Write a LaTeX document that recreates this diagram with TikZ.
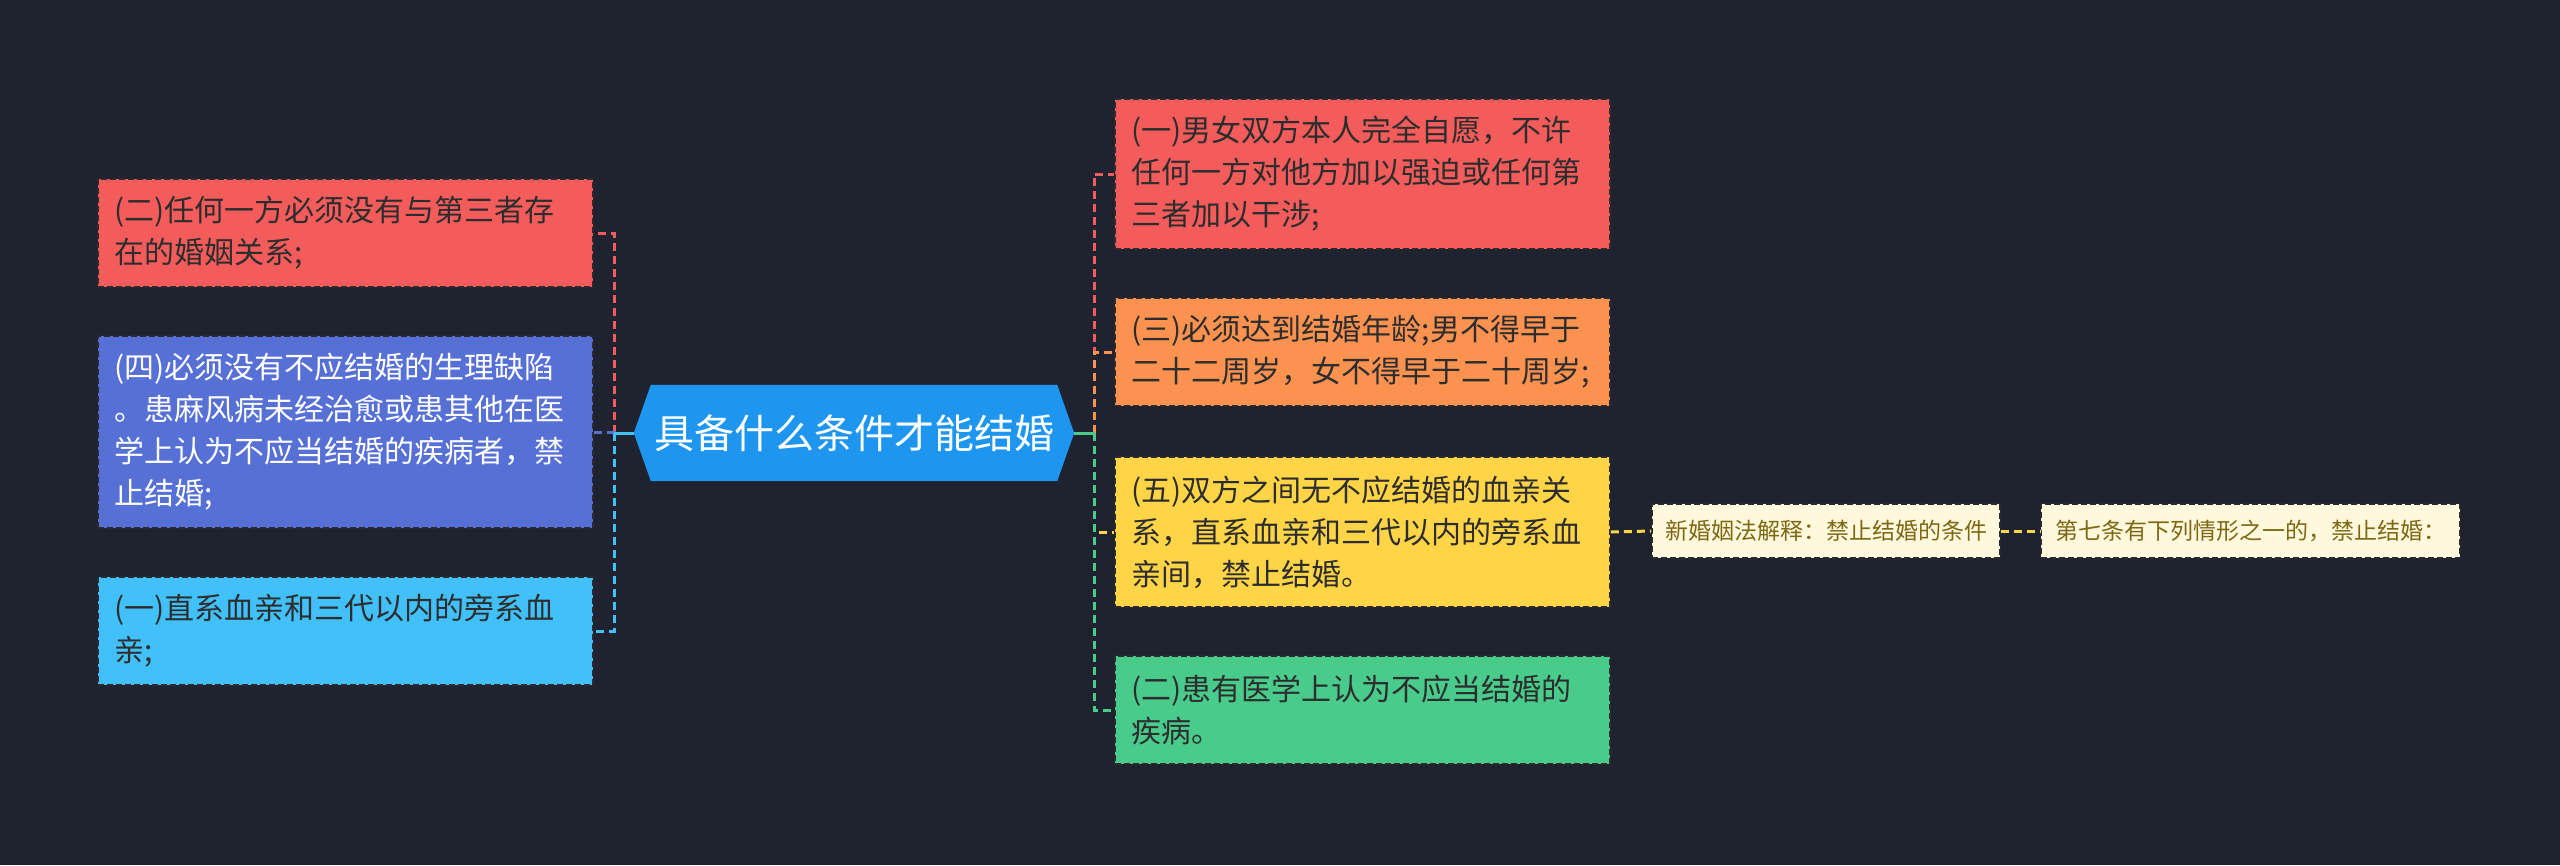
\documentclass[tikz,border=0pt]{standalone}
\usepackage{fontspec}
\setmainfont{Noto Sans CJK SC}
\usetikzlibrary{calc}
\definecolor{bg}{RGB}{31,35,48}
\definecolor{cred}{RGB}{244,92,92}
\definecolor{cindigo}{RGB}{86,112,214}
\definecolor{ccyan}{RGB}{65,192,250}
\definecolor{corange}{RGB}{252,146,80}
\definecolor{cyellow}{RGB}{255,213,72}
\definecolor{cgreen}{RGB}{72,203,139}
\definecolor{ccream}{RGB}{255,248,220}
\definecolor{cblue}{RGB}{30,150,240}
\definecolor{darktext}{RGB}{45,45,45}
\definecolor{olivetext}{RGB}{125,105,20}
\definecolor{edge}{RGB}{45,42,45}
\begin{document}
\begin{tikzpicture}[x=1pt,y=-1pt,
  box/.style={rectangle, draw=edge, fill=#1, dash pattern=on 6pt off 3pt, line width=1.8pt,
    minimum width=495pt, text width=462pt, align=left, inner sep=0pt,
    font=\fontsize{30}{42}\selectfont, text=darktext},
  small/.style={rectangle, draw=edge, fill=ccream, dash pattern=on 6pt off 3pt, line width=1.8pt,
    minimum height=54pt, inner sep=0pt, font=\fontsize{23}{28}\selectfont, text=olivetext},
  link/.style={line width=3pt, dash pattern=on 8pt off 5pt},
  trunk/.style={line width=3pt}]
\fill[bg] (0,0) rectangle (2560,865);
\useasboundingbox (0,0) rectangle (2560,865);

% center
\node[rectangle, minimum width=440pt, minimum height=96pt, inner sep=0pt] (center) at (854,433) {};
\fill[cblue] (center.west) -- ($(center.north west)+(17,0)$) -- ($(center.north east)+(-17,0)$)
  -- (center.east) -- ($(center.south east)+(-17,0)$) -- ($(center.south west)+(17,0)$) -- cycle;
\node[text=white, font=\fontsize{40}{48}\selectfont, inner sep=0pt] (ctext) at (center) {具备什么条件才能结婚};

% left boxes
\node[box=cred, minimum height=108pt] (l1) at (345.5,233) {(二)任何一方必须没有与第三者存\\在的婚姻关系;};
\node[box=cindigo, minimum height=192pt, text=white] (l2) at (345.5,432) {(四)必须没有不应结婚的生理缺陷\\。患麻风病未经治愈或患其他在医\\学上认为不应当结婚的疾病者，禁\\止结婚;};
\node[box=ccyan, minimum height=108pt] (l3) at (345.5,631) {(一)直系血亲和三代以内的旁系血\\亲;};

% right boxes
\node[box=cred, minimum height=150pt] (r1) at (1362.5,174) {(一)男女双方本人完全自愿，不许\\任何一方对他方加以强迫或任何第\\三者加以干涉;};
\node[box=corange, minimum height=108pt] (r2) at (1362.5,352) {(三)必须达到结婚年龄;男不得早于\\二十二周岁，女不得早于二十周岁;};
\node[box=cyellow, minimum height=150pt] (r3) at (1362.5,532) {(五)双方之间无不应结婚的血亲关\\系，直系血亲和三代以内的旁系血\\亲间，禁止结婚。};
\node[box=cgreen, minimum height=108pt] (r4) at (1362.5,710) {(二)患有医学上认为不应当结婚的\\疾病。};

% small boxes
\node[small, minimum width=348pt] (a) at (1826,531) {新婚姻法解释：禁止结婚的条件};
\node[small, minimum width=419pt] (b) at (2250.5,531) {第七条有下列情形之一的，禁止结婚：};

% junctions
\coordinate (jl) at (614,433);
\coordinate (jr) at (1094,433);

% left connectors
\draw[link, cred] (jl) |- (l1.east);
\draw[link, cindigo] (jl) |- (l2.east);
\draw[link, ccyan] (jl) |- (l3.east);
\draw[trunk, ccyan] (center.west) -- (jl);

% right connectors
\draw[link, cred] (jr) |- (r1.west);
\draw[link, corange] (jr) |- (r2.west);
\draw[link, cyellow] (jr) |- (r3.west);
\draw[link, cgreen] (jr) |- (r4.west);
\draw[trunk, cgreen] (center.east) -- (jr);

\draw[link, cyellow] (r3.east) -- (a.west);
\draw[link, cyellow] (a.east) -- (b.west);
\end{tikzpicture}
\end{document}
